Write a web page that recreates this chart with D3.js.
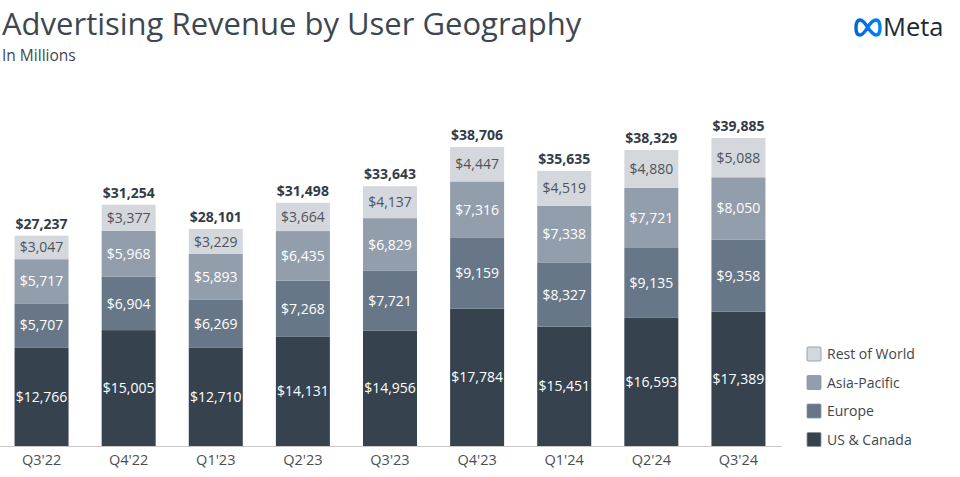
<!DOCTYPE html>
<html><head><meta charset="utf-8">
<script src="https://cdn.jsdelivr.net/npm/d3@7"></script>
<style>body{margin:0;background:#fff;}svg{display:block;font-family:"Open Sans",sans-serif;}</style>
</head><body><svg id="c" width="960" height="477"></svg>
<script>
const categories = ["Q3'22","Q4'22","Q1'23","Q2'23","Q3'23","Q4'23","Q1'24","Q2'24","Q3'24"];
const usCanada   = [12766,15005,12710,14131,14956,17784,15451,16593,17389];
const europe     = [5707,6904,6269,7268,7721,9159,8327,9135,9358];
const asiaPacific= [5717,5968,5893,6435,6829,7316,7338,7721,8050];
const restOfWorld= [3047,3377,3229,3664,4137,4447,4519,4880,5088];
const totals     = [27237,31254,28101,31498,33643,38706,35635,38329,39885];
const seriesNames = ["US & Canada","Europe","Asia-Pacific","Rest of World"];
const seriesValues = [usCanada, europe, asiaPacific, restOfWorld];
const colors = ["#36434f","#687787","#939eac","#d4d8dd"];
const textColors = ["#fff","#fff","#fff","#4d545c"];

const svg = d3.select("#c");
const baseY = 446;
const x = d3.scaleBand().domain(categories).range([-2, 782]).paddingInner(0.38).paddingOuter(0.19);
const y = d3.scaleLinear().domain([0, 39885]).range([baseY, 138]);

// title
svg.append("text").attr("x",2).attr("y",35).attr("font-size",31).attr("letter-spacing",0).attr("fill","#3d4751").text("Advertising Revenue by User Geography");
svg.append("text").attr("x",2).attr("y",61).attr("font-size",15.5).attr("fill","#3d4751").text("In Millions");

// Meta logo
const defs = svg.append("defs");
const g1 = defs.append("linearGradient").attr("id","mg").attr("x1","0").attr("x2","1");
g1.append("stop").attr("offset","0").attr("stop-color","#0064e0");
g1.append("stop").attr("offset","1").attr("stop-color","#0082fb");
svg.append("path")
  .attr("d","M868,28 C864,21 862,20 860,20 C857,20 856,24 856,28 C856,33 858,35 860,35 C863,35 866,30 868,27 C871,22 873,20 876,20 C879,20 880,24 880,28 C880,33 879,35 876,35 C873,35 871,32 868,28 Z")
  .attr("fill","none").attr("stroke","url(#mg)").attr("stroke-width",3.4).attr("stroke-linejoin","round");
svg.append("text").attr("x",883).attr("y",36).attr("font-size",25.5).attr("fill","#1c2b33").attr("font-weight",500).text("Meta");

// stacked data
const stackData = categories.map((c,i)=>{const o={cat:c}; seriesNames.forEach((s,k)=>o[s]=seriesValues[k][i]); return o;});
const stack = d3.stack().keys(seriesNames)(stackData);

const layers = svg.append("g").selectAll("g").data(stack).join("g").attr("fill",(d,i)=>colors[i]);
layers.selectAll("rect").data(d=>d).join("rect")
  .attr("x",d=>x(d.data.cat)).attr("width",x.bandwidth())
  .attr("y",d=>y(d[1])).attr("height",d=>y(d[0])-y(d[1]));

const fmt = v=>"$"+d3.format(",")(v);
stack.forEach((layer,k)=>{
  svg.append("g").selectAll("text").data(layer).join("text")
    .attr("x",d=>x(d.data.cat)+x.bandwidth()/2)
    .attr("y",d=>(y(d[0])+y(d[1]))/2)
    .attr("dy","0.36em").attr("text-anchor","middle").attr("font-size",14)
    .attr("fill",textColors[k]).text(d=>fmt(d[1]-d[0]));
});
svg.append("g").selectAll("text").data(categories).join("text")
  .attr("x",c=>x(c)+x.bandwidth()/2).attr("y",(c,i)=>y(totals[i])-7)
  .attr("text-anchor","middle").attr("font-size",14).attr("font-weight",700).attr("fill","#323c46")
  .text((c,i)=>fmt(totals[i]));

// axis
const ax = svg.append("g").attr("transform",`translate(0,${baseY})`).call(d3.axisBottom(x).tickSize(0).tickPadding(9));
ax.select(".domain").attr("stroke","#c8c8c8").attr("d","M0,0.5H782");
ax.selectAll("text").attr("font-size",14.5).attr("fill","#4a4f55").attr("font-family","Open Sans, sans-serif");

// legend
const leg = svg.append("g").selectAll("g").data(seriesNames.slice().reverse()).join("g")
  .attr("transform",(d,i)=>`translate(807,${347+i*28.5})`);
leg.append("rect").attr("width",14).attr("height",14).attr("rx",1)
  .attr("fill",d=>colors[seriesNames.indexOf(d)]).attr("stroke","#8a929b").attr("stroke-width",0.8);
leg.append("text").attr("x",20).attr("y",7).attr("dy","0.36em").attr("font-size",14).attr("fill","#3d4751").text(d=>d);
</script></body></html>
